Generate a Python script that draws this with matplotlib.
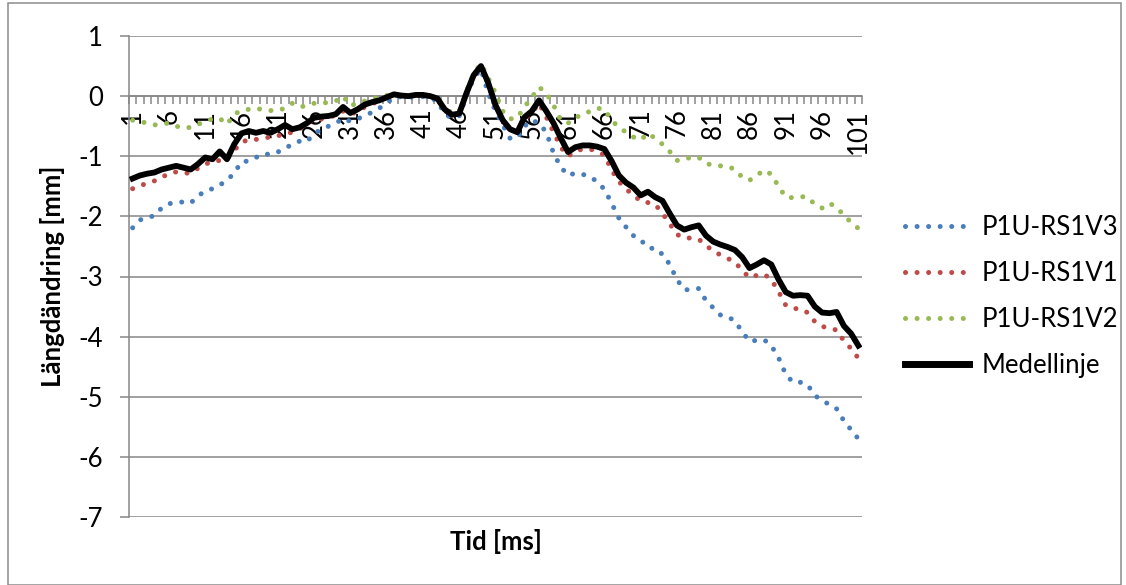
import matplotlib
matplotlib.use("Agg")
import matplotlib.pyplot as plt
from matplotlib.patches import Rectangle
import numpy as np

plt.rcParams['font.family'] = ['Lato', 'DejaVu Sans']
plt.rcParams['axes.unicode_minus'] = False

# Time index (ms) and length change (mm) for each run
tid = list(range(1, 102))

p1u_rs1v3 = [
    -2.19, -2.06, -2.02, -1.99, -1.86, -1.79, -1.77, -1.76, -1.78, -1.66,
    -1.58, -1.54, -1.48, -1.40, -1.28, -1.09, -1.08, -1.02, -0.96, -0.97,
    -0.93, -0.87, -0.80, -0.75, -0.76, -0.62, -0.56, -0.50, -0.45, -0.37,
    -0.42, -0.38, -0.32, -0.27, -0.20, -0.12, -0.02, -0.01, -0.02, -0.01,
    -0.01, -0.03, -0.08, -0.30, -0.36, -0.33, 0.00, 0.30, 0.45, 0.05,
    -0.25, -0.48, -0.70, -0.70, -0.50, -0.40, -0.45, -0.60, -0.95, -1.18,
    -1.32, -1.28, -1.30, -1.34, -1.42, -1.55, -1.78, -2.03, -2.18, -2.32,
    -2.42, -2.45, -2.60, -2.62, -2.80, -3.05, -3.22, -3.22, -3.20, -3.40,
    -3.52, -3.64, -3.67, -3.74, -3.92, -4.08, -4.06, -4.05, -4.15, -4.35,
    -4.63, -4.76, -4.76, -4.80, -4.98, -5.06, -5.13, -5.20, -5.40, -5.55,
    -5.70,
]

p1u_rs1v1 = [
    -1.54, -1.49, -1.45, -1.41, -1.35, -1.29, -1.26, -1.28, -1.28, -1.20,
    -1.13, -1.09, -1.07, -1.05, -0.90, -0.77, -0.72, -0.72, -0.70, -0.68,
    -0.66, -0.63, -0.60, -0.55, -0.45, -0.40, -0.38, -0.35, -0.32, -0.25,
    -0.30, -0.26, -0.18, -0.13, -0.08, -0.03, 0.02, 0.01, 0.00, 0.01,
    0.01, 0.00, -0.05, -0.24, -0.32, -0.30, 0.03, 0.33, 0.48, 0.20,
    -0.15, -0.40, -0.55, -0.60, -0.38, -0.28, -0.12, -0.35, -0.60, -0.85,
    -1.00, -0.92, -0.88, -0.88, -0.92, -0.98, -1.23, -1.42, -1.55, -1.64,
    -1.75, -1.77, -1.80, -1.95, -2.12, -2.30, -2.36, -2.36, -2.38, -2.48,
    -2.58, -2.64, -2.70, -2.76, -2.90, -3.02, -2.98, -2.96, -3.05, -3.25,
    -3.48, -3.53, -3.54, -3.60, -3.75, -3.83, -3.86, -3.89, -4.07, -4.20,
    -4.36,
]

p1u_rs1v2 = [
    -0.40, -0.42, -0.45, -0.48, -0.46, -0.45, -0.50, -0.53, -0.52, -0.47,
    -0.42, -0.38, -0.37, -0.47, -0.30, -0.24, -0.22, -0.20, -0.23, -0.24,
    -0.24, -0.20, -0.12, -0.18, -0.16, -0.12, -0.11, -0.11, -0.08, 0.00,
    -0.16, -0.12, -0.08, -0.05, -0.01, 0.01, 0.02, 0.01, 0.00, 0.01,
    0.01, 0.00, -0.05, -0.22, -0.27, -0.26, 0.08, 0.38, 0.54, 0.30,
    0.05, -0.25, -0.38, -0.36, -0.18, -0.02, 0.15, 0.05, -0.15, -0.40,
    -0.45, -0.35, -0.32, -0.25, -0.20, -0.22, -0.40, -0.52, -0.60, -0.68,
    -0.73, -0.62, -0.70, -0.80, -0.92, -1.07, -1.06, -1.01, -1.02, -1.12,
    -1.15, -1.16, -1.17, -1.22, -1.35, -1.40, -1.32, -1.23, -1.30, -1.50,
    -1.68, -1.69, -1.67, -1.68, -1.80, -1.86, -1.78, -1.85, -1.98, -2.10,
    -2.20,
]

medellinje = [
    -1.37, -1.32, -1.29, -1.27, -1.22, -1.19, -1.16, -1.19, -1.22, -1.13,
    -1.02, -1.05, -0.92, -1.05, -0.80, -0.62, -0.58, -0.61, -0.58, -0.61,
    -0.55, -0.48, -0.55, -0.52, -0.45, -0.36, -0.34, -0.33, -0.30, -0.18,
    -0.28, -0.22, -0.14, -0.10, -0.07, -0.02, 0.03, 0.01, 0.00, 0.02,
    0.02, 0.00, -0.04, -0.22, -0.31, -0.29, 0.05, 0.35, 0.50, 0.22,
    -0.15, -0.40, -0.55, -0.60, -0.35, -0.25, -0.07, -0.25, -0.45, -0.70,
    -0.93, -0.85, -0.82, -0.82, -0.84, -0.88, -1.08, -1.32, -1.44, -1.52,
    -1.65, -1.59, -1.68, -1.74, -1.95, -2.15, -2.22, -2.18, -2.15, -2.32,
    -2.42, -2.47, -2.51, -2.56, -2.68, -2.86, -2.80, -2.73, -2.80, -3.05,
    -3.26, -3.32, -3.31, -3.32, -3.50, -3.60, -3.61, -3.59, -3.82, -3.95,
    -4.15,
]

series_names = ['P1U-RS1V3', 'P1U-RS1V1', 'P1U-RS1V2', 'Medellinje']
y_ticks = [1, 0, -1, -2, -3, -4, -5, -6, -7]
x_label_ticks = tid[::5]

W, H = 1126, 585
fig = plt.figure(figsize=(W / 100, H / 100), dpi=100)

# plot area in pixel coordinates
left_px, right_px, top_px, bottom_px = 129, 862, 36, 517
ax = fig.add_axes([left_px / W, 1 - bottom_px / H,
                   (right_px - left_px) / W, (bottom_px - top_px) / H])

grid_col = '#868686'
dot_style = (0, (0.01, 2.3))

ax.plot(tid, p1u_rs1v3, color='#4A7EBB', lw=3.6, linestyle=dot_style,
        dash_capstyle='round', label=series_names[0], zorder=3)
ax.plot(tid, p1u_rs1v1, color='#BE4B48', lw=3.6, linestyle=dot_style,
        dash_capstyle='round', label=series_names[1], zorder=3)
ax.plot(tid, p1u_rs1v2, color='#98B954', lw=3.6, linestyle=dot_style,
        dash_capstyle='round', label=series_names[2], zorder=3)
ax.plot(tid, medellinje, color='black', lw=4.2, solid_joinstyle='round',
        label=series_names[3], zorder=4)

ax.set_xlim(0.5, 101.5)
ax.set_ylim(-7, 1)

# horizontal gridlines
ax.set_yticks(y_ticks)
ax.yaxis.grid(True, color=grid_col, lw=1.1)
ax.set_axisbelow(True)
ax.tick_params(axis='y', direction='out', length=6.5, width=1.1,
               color=grid_col, labelsize=18.5, pad=12)

# category axis crossing at zero
for s in ['top', 'right']:
    ax.spines[s].set_visible(False)
ax.spines['left'].set_color(grid_col)
ax.spines['left'].set_linewidth(1.1)
ax.spines['bottom'].set_position(('data', 0))
ax.spines['bottom'].set_color(grid_col)
ax.spines['bottom'].set_linewidth(1.1)
ax.spines['bottom'].set_zorder(2)

ax.set_xticks(x_label_ticks)
ax.set_xticklabels([str(v) for v in x_label_ticks], rotation=90)
ax.set_xticks(np.arange(0.5, 102, 1.0), minor=True)
ax.tick_params(axis='x', which='major', length=0, labelsize=18.5, pad=9)
ax.tick_params(axis='x', which='minor', direction='out', length=5.5,
               width=1.1, color=grid_col)

ax.set_ylabel('Längdändring [mm]', fontsize=18.5, fontweight='bold',
              labelpad=10)
fig.text((left_px + right_px) / 2 / W, 1 - 541 / H, 'Tid [ms]',
         ha='center', va='center', fontsize=18.5, fontweight='bold')

leg = ax.legend(loc='upper left', bbox_to_anchor=(905 / W, 1 - 215 / H),
                bbox_transform=fig.transFigure, frameon=False,
                fontsize=18.5, handlelength=2.5, handletextpad=0.5,
                labelspacing=0.82, borderaxespad=0, borderpad=0)
for h in leg.get_lines():
    if h.get_label() == 'Medellinje':
        h.set_linewidth(5)

# chart border
fig.patches.append(Rectangle((8 / W, 0), (1121 - 8) / W, 1 - 3 / H,
                             transform=fig.transFigure, fill=False,
                             edgecolor='#8C8C8C', lw=1.1))

fig.savefig('out.png', dpi=100)
